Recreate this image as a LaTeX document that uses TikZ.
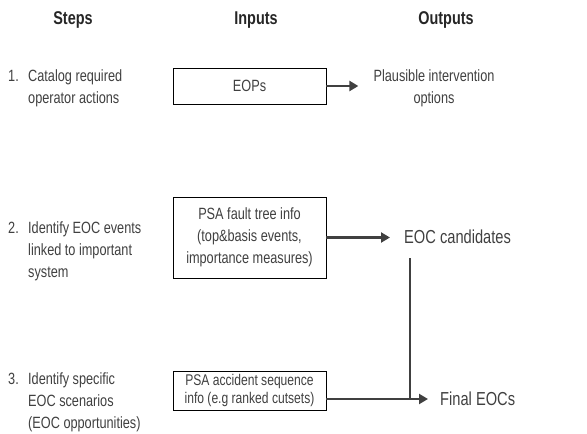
\documentclass[tikz,border=0pt]{standalone}
\usepackage{fontspec}
\setmainfont{Liberation Sans}[FakeStretch=0.78]
\usetikzlibrary{positioning}
\usetikzlibrary{arrows.meta}
\definecolor{inkgray}{HTML}{404040}
\definecolor{headgray}{HTML}{262626}

\begin{document}
\begin{tikzpicture}[x=1pt, y=-1pt,
            every node/.style = {inner sep=0pt, text=inkgray},
            head/.style = {anchor=base, text=headgray,
                font=\bfseries\fontsize{18.5}{22}\selectfont},
            stepnote/.style = {anchor=base west,
                font=\fontsize{16.3}{22}\selectfont},
            inbox/.style = {draw=black, line width=0.9pt, align=center,
                minimum width=153pt, font=\fontsize{16.3}{22}\selectfont},
            outnote/.style = {font=\fontsize{18.8}{22}\selectfont},
            flow/.style = {draw=inkgray, line width=2.6pt,
                -{Triangle[length=9pt,width=10pt]}}]
            \useasboundingbox (0,0) rectangle (587,434);
            % column heads
            \node[head] (hsteps) at (73,24) {Steps};
            \node[head] (hinputs) at (256,24) {Inputs};
            \node[head] (houtputs) at (446,24) {Outputs};
            % steps
            \node[stepnote] (s1) at (8,81) {\begin{tabular}[t]{@{}l@{}l@{}}
                \makebox[20pt][l]{1.}&Catalog required\\ &operator actions\end{tabular}};
            \node[stepnote] (s2) at (8,233) {\begin{tabular}[t]{@{}l@{}l@{}}
                \makebox[20pt][l]{2.}&Identify EOC events\\ &linked to important\\ &system\end{tabular}};
            \node[stepnote] (s3) at (8,384) {\begin{tabular}[t]{@{}l@{}l@{}}
                \makebox[20pt][l]{3.}&Identify specific\\ &EOC scenarios\\ &(EOC opportunities)\end{tabular}};
            % inputs
            \node[inbox, minimum height=36pt] (b1) at (249.5,86) {EOPs};
            \node[inbox, minimum height=81pt] (b2) at (249.5,237.5)
                {PSA fault tree info\\(top\&basis events,\\importance measures)};
            \node[inbox, minimum height=39pt, font=\fontsize{15.5}{18.5}\selectfont] (b3) at (249.5,390.5)
                {PSA accident sequence\\info (e.g ranked cutsets)};
            % outputs
            \node[stepnote, align=center, anchor=center] (o1) at (434,88)
                {Plausible intervention\\options};
            \node[outnote, anchor=west] (o2) at (404,237) {EOC candidates};
            \node[outnote, anchor=west] (o3) at (440,399) {Final EOCs};
            \coordinate (ctop) at (410,258);
            \coordinate (join) at (410,399);
            % connectors
            \draw[flow, shorten >=15pt] (b1.east) -- (b1.east -| o1.west);
            \draw[flow, shorten >=14pt] (b2.east) -- (b2.east -| o2.west);
            \draw[draw=inkgray, line width=2.6pt] (ctop) -- (join);
            \draw[flow, shorten >=12pt] (b3.east |- join) -- (o3.west);
\end{tikzpicture}
\end{document}
